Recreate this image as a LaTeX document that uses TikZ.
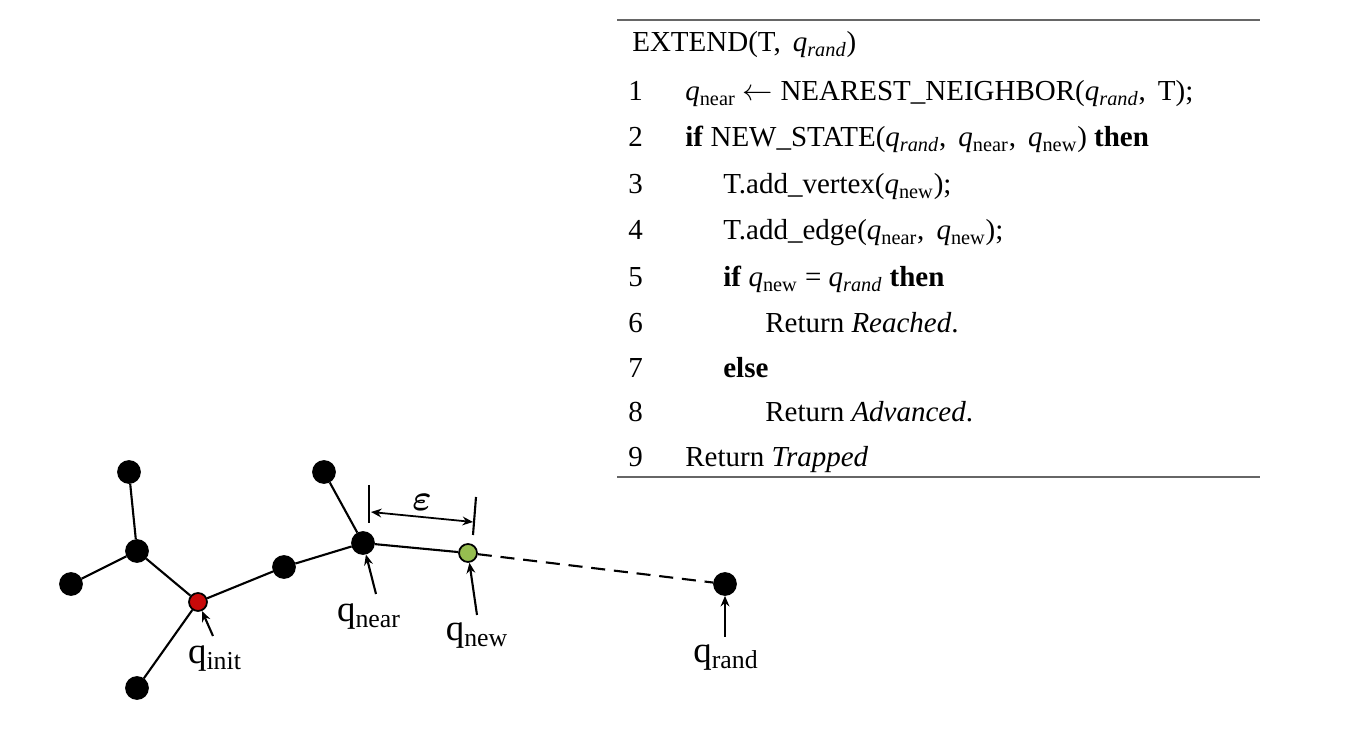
\documentclass[tikz,border=0pt]{standalone}
\usepackage{amsmath, amssymb}
\usepackage{fontspec}
\setmainfont{Liberation Serif}
\usepackage{xcolor}
\usetikzlibrary{arrows.meta, positioning}

\definecolor{initred}{RGB}{200,10,10}
\definecolor{newgreen}{RGB}{150,190,80}
\newcommand{\qv}[1]{\textit{q}\textsubscript{#1}}

\begin{document}
\begin{tikzpicture}[
  x=0.02cm, y=-0.02cm,
  every node/.style={font=\fontsize{16.5}{20}\selectfont},
  vtx/.style={circle, draw, line width=1pt, fill=black, minimum size=0.44cm, inner sep=0pt},
  keyvtx/.style={vtx, minimum size=0.36cm},
  edge/.style={line width=1.2pt},
  ptr/.style={line width=1.2pt, -{Stealth[length=6pt, width=5pt]}},
  qlabel/.style={font=\fontsize{21}{24}\selectfont},
  row/.style={anchor=base west, inner sep=0pt},
  rule/.style={line width=1.2pt, gray!80!black},
]
  \useasboundingbox (0,0) rectangle (1350,742);

  % algorithm
  \draw[rule] (617,20) -- (1260,20);
  \draw[rule] (617,477) -- (1260,477);
  \node[row] (hd) at (632,52) {EXTEND(T,\, \qv{\textit{rand}})};
  \foreach \n/\y in {1/101,2/147,3/194,4/240,5/287,6/333,7/378,8/422,9/467}
    \node[row] (num\n) at (628,\y) {\n};
  \node[row] (r1) at (685,101) {\qv{near} $\leftarrow$ NEAREST\_NEIGHBOR(\qv{\textit{rand}},\, T);};
  \node[row] (r2) at (685,147) {\textbf{if} NEW\_STATE(\qv{\textit{rand}},\, \qv{near},\, \qv{new}) \textbf{then}};
  \node[row] (r3) at (723,194) {T.add\_vertex(\qv{new});};
  \node[row] (r4) at (723,240) {T.add\_edge(\qv{near},\, \qv{new});};
  \node[row] (r5) at (723,287) {\textbf{if} \qv{new} = \qv{\textit{rand}} \textbf{then}};
  \node[row] (r6) at (765,333) {Return \textit{Reached}.};
  \node[row] (r7) at (723,378) {\textbf{else}};
  \node[row] (r8) at (765,422) {Return \textit{Advanced}.};
  \node[row] (r9) at (685,467) {Return \textit{Trapped}};

  % tree
  \node[vtx] (top)   at (129,472) {};
  \node[vtx] (joint) at (137,551) {};
  \node[vtx] (left)  at (71,584) {};
  \node[keyvtx, fill=initred] (init) at (198,602) {};
  \node[vtx] (bot)   at (137,688) {};
  \node[vtx] (mid)   at (284,567) {};
  \node[vtx] (twig)  at (324,472) {};
  \node[vtx] (near)  at (363,543) {};
  \node[keyvtx, fill=newgreen] (new) at (468,553) {};
  \node[vtx] (rand)  at (725,584) {};

  \draw[edge] (top) -- (joint);
  \draw[edge] (joint) -- (left);
  \draw[edge] (joint) -- (init);
  \draw[edge] (init) -- (bot);
  \draw[edge] (init) -- (mid);
  \draw[edge] (mid) -- (near);
  \draw[edge] (twig) -- (near);
  \draw[edge] (near) -- (new);
  \draw[edge, dashed, dash pattern=on 8pt off 5pt] (new) -- (rand);

  % step size
  \coordinate (tick1a) at (369,485);
  \coordinate (tick1b) at (369,523);
  \coordinate (tick2a) at (476,497);
  \coordinate (tick2b) at (473,535);
  \draw[edge] (tick1a) -- (tick1b);
  \draw[edge] (tick2a) -- (tick2b);
  \coordinate (eps1) at (371,512);
  \coordinate (eps2) at (473,522);
  \draw[line width=1pt, {Stealth[length=6pt, width=5pt]}-{Stealth[length=6pt, width=5pt]}] (eps1) -- (eps2);
  \node[font=\fontsize{20}{24}\selectfont] (eps) at (422,502) {$\boldsymbol{\varepsilon}$};

  % labels
  \node[qlabel] (linit) at (215,659) {q\textsubscript{init}};
  \node[qlabel] (lnear) at (369,617) {q\textsubscript{near}};
  \node[qlabel] (lnew)  at (477,636) {q\textsubscript{new}};
  \node[qlabel] (lrand) at (726,658) {q\textsubscript{rand}};
  \coordinate (ainit) at (213,636);
  \coordinate (anear) at (376,594);
  \coordinate (anew)  at (477,615);
  \coordinate (arand) at (725,637);
  \draw[ptr] (ainit) -- (init);
  \draw[ptr] (anear) -- (near);
  \draw[ptr] (anew) -- (new);
  \draw[ptr] (arand) -- (rand);
\end{tikzpicture}
\end{document}
